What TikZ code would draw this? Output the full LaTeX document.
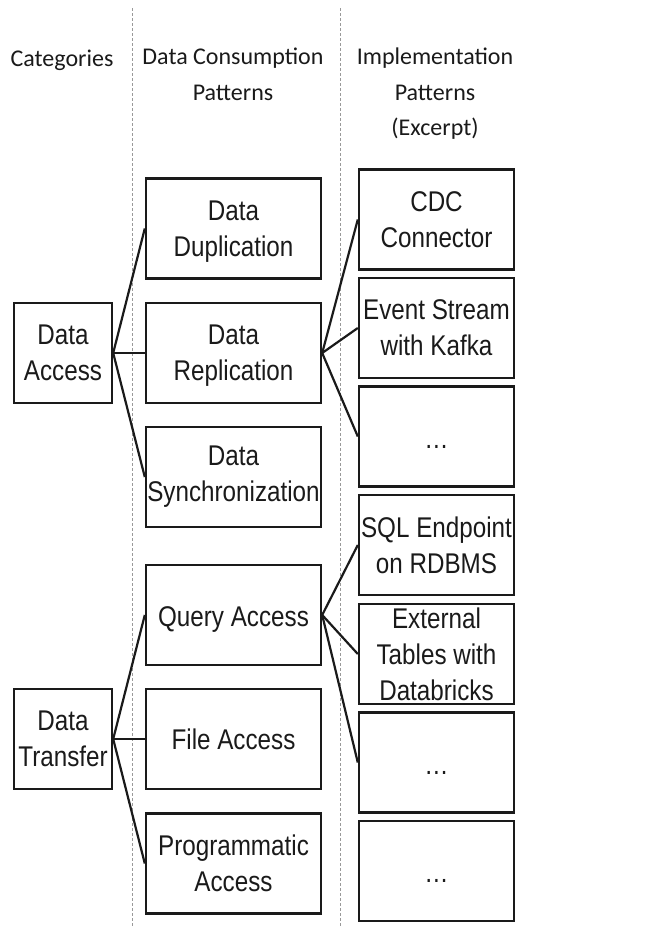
\documentclass[tikz,border=0pt]{standalone}
\usepackage{fontspec}
\setmainfont{Liberation Sans}
\newfontfamily\boxfamily[FakeStretch=0.85]{Liberation Sans}
\newfontfamily\headfamily{Carlito}
\definecolor{ink}{HTML}{1A1A1A}
\newcommand{\lowr}[2]{\raisebox{-#1}[\height][\depth]{#2}}
\begin{document}
\begin{tikzpicture}[x=1pt,y=-1pt,
  box/.style={draw=ink, line width=2.4pt, inner sep=0pt, align=center,
    text=ink, font=\boxfamily\fontsize{28.5}{36}\selectfont},
  catbox/.style={box, minimum width=98pt, minimum height=100pt},
  patbox/.style={box, minimum width=175pt, minimum height=100pt},
  impbox/.style={box, minimum width=155pt, minimum height=100pt},
  head/.style={align=center, text=ink, inner sep=0pt, anchor=base,
    font=\headfamily\fontsize{24}{35.5}\selectfont},
  link/.style={draw=ink, line width=2.2pt},
  sep/.style={draw=gray!80, line width=0.7pt, dash pattern=on 3pt off 2pt}
]
\useasboundingbox (0,0) rectangle (654,926);
% separators
\coordinate (s1t) at (132,8); \coordinate (s1b) at (132,926);
\coordinate (s2t) at (340,8); \coordinate (s2b) at (340,926);
\draw[sep] (s1t) -- (s1b);
\draw[sep] (s2t) -- (s2b);
% headers
\node[head] (h1) at (62,66) {Categories};
\node[head, anchor=north] (h2) at (233,48) {Data Consumption\\Patterns};
\node[head, anchor=north] (h3) at (435,48) {Implementation\\Patterns\\(Excerpt)};
% categories
\node[catbox] (da) at (63,353) {Data\\Access};
\node[catbox] (dt) at (63,739) {Data\\Transfer};
% patterns
\node[patbox] (dup) at (233.5,228.5) {\lowr{3pt}{Data}\\\lowr{3pt}{Duplication}};
\node[patbox] (rep) at (233.5,353) {\lowr{3pt}{Data}\\\lowr{3pt}{Replication}};
\node[patbox] (syn) at (233.5,477) {Data\\Synchronization};
\node[patbox] (qa) at (233.5,615) {\lowr{4pt}{Query Access}};
\node[patbox] (fa) at (233.5,739) {File Access};
\node[patbox] (pa) at (233.5,863.5) {Programmatic\\Access};
% implementations
\node[impbox] (cdc) at (436.5,219.5) {CDC\\Connector};
\node[impbox] (es) at (436.5,328) {Event Stream\\with Kafka};
\node[impbox] (d1) at (436.5,436.5) {\lowr{10pt}{…}};
\node[impbox] (sql) at (436.5,545) {SQL Endpoint\\on RDBMS};
\node[impbox] (et) at (436.5,654) {External\\Tables with\\Databricks};
\node[impbox] (d2) at (436.5,762.5) {\lowr{10pt}{…}};
\node[impbox] (d3) at (436.5,871) {\lowr{10pt}{…}};
% links
\draw[link] (da.east) -- (dup.west);
\draw[link] (da.east) -- (rep.west);
\draw[link] (da.east) -- (syn.west);
\draw[link] (dt.east) -- (qa.west);
\draw[link] (dt.east) -- (fa.west);
\draw[link] (dt.east) -- (pa.west);
\draw[link] (rep.east) -- (cdc.west);
\draw[link] (rep.east) -- (es.west);
\draw[link] (rep.east) -- (d1.west);
\draw[link] (qa.east) -- (sql.west);
\draw[link] (qa.east) -- (et.west);
\draw[link] (qa.east) -- (d2.west);
\end{tikzpicture}
\end{document}
